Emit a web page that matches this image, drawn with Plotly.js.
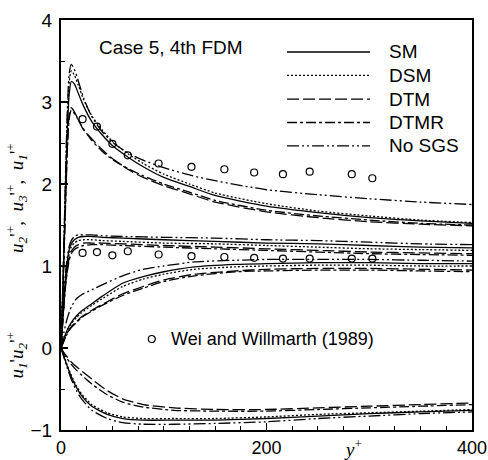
<!DOCTYPE html>
<html>
<head>
<meta charset="utf-8">
<script src="https://cdn.plot.ly/plotly-3.0.1.min.js"></script>
<style>html,body{margin:0;padding:0;background:#fff;}</style>
</head>
<body>
<div id="chart" style="width:488px;height:460px;"></div>
<script>
// ---------- DATA ----------
const models = ['SM', 'DSM', 'DTM', 'DTMR', 'No SGS'];

// u1'+ (upper peaked curves)
const xA = [0, 2, 4, 6, 8, 10, 13, 17, 22, 30, 40, 50, 65, 80, 100, 125, 150, 200, 250, 300, 350, 400];
const u1_SM    = [0, 0.80, 1.75, 2.60, 3.10, 3.25, 3.22, 3.10, 2.95, 2.76, 2.60, 2.47, 2.33, 2.21, 2.08, 1.97, 1.86, 1.73, 1.65, 1.59, 1.55, 1.52];
const u1_DSM   = [0, 0.85, 1.85, 2.75, 3.25, 3.38, 3.33, 3.20, 3.03, 2.83, 2.66, 2.52, 2.37, 2.25, 2.12, 2.00, 1.89, 1.76, 1.67, 1.61, 1.56, 1.53];
const u1_DTM   = [0, 0.75, 1.60, 2.40, 2.85, 2.93, 2.88, 2.78, 2.66, 2.55, 2.42, 2.31, 2.18, 2.08, 1.98, 1.88, 1.78, 1.66, 1.59, 1.54, 1.51, 1.49];
const u1_DTMR  = [0, 0.70, 1.55, 2.35, 2.80, 2.90, 2.86, 2.78, 2.67, 2.53, 2.40, 2.30, 2.19, 2.10, 2.00, 1.90, 1.80, 1.68, 1.61, 1.56, 1.52, 1.50];
const u1_NoSGS = [0, 0.85, 1.90, 2.85, 3.35, 3.46, 3.40, 3.25, 3.05, 2.82, 2.64, 2.51, 2.38, 2.29, 2.20, 2.11, 2.04, 1.93, 1.87, 1.82, 1.78, 1.75];

// u3'+ (plateau near 1.3)
const xB = [0, 2, 4, 6, 8, 10, 13, 17, 22, 30, 40, 60, 100, 150, 200, 250, 300, 350, 400];
const u3_SM    = [0, 0.42, 0.80, 1.05, 1.20, 1.27, 1.32, 1.35, 1.36, 1.36, 1.35, 1.34, 1.32, 1.30, 1.28, 1.27, 1.25, 1.23, 1.22];
const u3_DSM   = [0, 0.40, 0.76, 1.00, 1.15, 1.23, 1.28, 1.31, 1.32, 1.32, 1.31, 1.30, 1.28, 1.27, 1.25, 1.23, 1.21, 1.20, 1.19];
const u3_DTM   = [0, 0.38, 0.72, 0.95, 1.10, 1.18, 1.23, 1.26, 1.28, 1.28, 1.28, 1.27, 1.25, 1.23, 1.21, 1.19, 1.17, 1.16, 1.15];
const u3_DTMR  = [0, 0.36, 0.70, 0.92, 1.07, 1.15, 1.20, 1.23, 1.25, 1.26, 1.26, 1.25, 1.23, 1.21, 1.19, 1.17, 1.15, 1.14, 1.13];
const u3_NoSGS = [0, 0.45, 0.85, 1.10, 1.24, 1.31, 1.36, 1.38, 1.38, 1.38, 1.37, 1.36, 1.35, 1.34, 1.32, 1.31, 1.29, 1.27, 1.26];

// u2'+ (slow rise to ~1)
const xC = [0, 3, 6, 10, 15, 20, 30, 40, 60, 80, 100, 130, 170, 200, 250, 300, 350, 400];
const u2_SM    = [0, 0.12, 0.22, 0.31, 0.39, 0.45, 0.54, 0.63, 0.79, 0.87, 0.93, 0.99, 1.02, 1.03, 1.04, 1.04, 1.03, 1.03];
const u2_DSM   = [0, 0.11, 0.21, 0.30, 0.37, 0.43, 0.52, 0.60, 0.75, 0.84, 0.90, 0.96, 0.99, 1.00, 1.01, 1.01, 1.00, 1.00];
const u2_DTM   = [0, 0.09, 0.18, 0.26, 0.32, 0.38, 0.46, 0.53, 0.66, 0.75, 0.83, 0.90, 0.94, 0.96, 0.97, 0.97, 0.96, 0.95];
const u2_DTMR  = [0, 0.09, 0.17, 0.25, 0.31, 0.37, 0.45, 0.52, 0.64, 0.73, 0.81, 0.88, 0.93, 0.94, 0.95, 0.95, 0.94, 0.93];
const u2_NoSGS = [0, 0.20, 0.36, 0.50, 0.60, 0.65, 0.71, 0.77, 0.88, 0.96, 1.00, 1.05, 1.07, 1.08, 1.08, 1.08, 1.07, 1.06];

// u1'u2'+ (negative)
const xD = [0, 3, 6, 10, 15, 20, 30, 45, 60, 80, 110, 150, 200, 250, 300, 350, 400];
const uv_SM    = [0, -0.11, -0.22, -0.35, -0.48, -0.58, -0.71, -0.81, -0.86, -0.88, -0.88, -0.88, -0.86, -0.83, -0.80, -0.78, -0.76];
const uv_DSM   = [0, -0.10, -0.21, -0.33, -0.46, -0.56, -0.69, -0.79, -0.84, -0.86, -0.86, -0.86, -0.84, -0.81, -0.79, -0.77, -0.75];
const uv_DTM   = [0, -0.06, -0.11, -0.17, -0.23, -0.28, -0.38, -0.52, -0.62, -0.69, -0.73, -0.75, -0.75, -0.73, -0.71, -0.69, -0.67];
const uv_DTMR  = [0, -0.07, -0.13, -0.20, -0.27, -0.33, -0.44, -0.57, -0.66, -0.72, -0.76, -0.77, -0.77, -0.75, -0.73, -0.71, -0.69];
const uv_NoSGS = [0, -0.12, -0.24, -0.38, -0.52, -0.62, -0.76, -0.86, -0.91, -0.93, -0.93, -0.92, -0.90, -0.86, -0.83, -0.80, -0.78];

// Wei and Willmarth (1989) experimental data
const xExp = [21, 35, 50, 65, 95, 127, 159, 188, 216, 242, 283, 303];
const u1Exp = [2.79, 2.70, 2.49, 2.35, 2.25, 2.21, 2.18, 2.14, 2.12, 2.15, 2.12, 2.07];
const u2Exp = [1.16, 1.17, 1.13, 1.18, 1.14, 1.12, 1.11, 1.10, 1.09, 1.09, 1.09, 1.09];

const expLabel = 'Wei and Willmarth (1989)';
const panelLabel = 'Case 5, 4th FDM';

// ---------- STYLE ----------
const dashes = {
  'SM': 'solid',
  'DSM': '2px,2px',
  'DTM': '12px,4px',
  'DTMR': '10px,3px,3px,3px',
  'No SGS': '12px,3px,2px,3px,2px,3px'
};
const groups = [
  {x: xA, ys: {'SM': u1_SM, 'DSM': u1_DSM, 'DTM': u1_DTM, 'DTMR': u1_DTMR, 'No SGS': u1_NoSGS}},
  {x: xB, ys: {'SM': u3_SM, 'DSM': u3_DSM, 'DTM': u3_DTM, 'DTMR': u3_DTMR, 'No SGS': u3_NoSGS}},
  {x: xC, ys: {'SM': u2_SM, 'DSM': u2_DSM, 'DTM': u2_DTM, 'DTMR': u2_DTMR, 'No SGS': u2_NoSGS}},
  {x: xD, ys: {'SM': uv_SM, 'DSM': uv_DSM, 'DTM': uv_DTM, 'DTMR': uv_DTMR, 'No SGS': uv_NoSGS}}
];

const traces = [];
groups.forEach((g, gi) => {
  models.forEach(m => {
    traces.push({
      x: g.x, y: g.ys[m], type: 'scatter', mode: 'lines', name: m,
      legendgroup: m, showlegend: false,
      line: {color: '#000', width: 1.3, dash: dashes[m], shape: 'spline', smoothing: 0.6},
      hoverinfo: 'skip'
    });
  });
});
[u1Exp, u2Exp].forEach(ye => {
  traces.push({
    x: xExp, y: ye, type: 'scatter', mode: 'markers', name: expLabel, showlegend: false,
    marker: {symbol: 'circle-open', size: 7, color: '#000', line: {width: 1.2, color: '#000'}},
    hoverinfo: 'skip'
  });
});

const SANS = 'Liberation Sans, Arial, sans-serif';
const SERIF = 'Liberation Serif, Times New Roman, serif';

// legend drawn as samples + text
const shapes = [];
const annotations = [];
const legY = [0.922, 0.865, 0.807, 0.750, 0.693];
models.forEach((m, i) => {
  shapes.push({type: 'line', xref: 'paper', yref: 'paper', x0: 0.55, x1: 0.752, y0: legY[i], y1: legY[i],
    line: {color: '#000', width: 1.3, dash: dashes[m]}});
  annotations.push({xref: 'paper', yref: 'paper', x: 0.793, y: legY[i], xanchor: 'left', yanchor: 'middle',
    text: m, showarrow: false, font: {family: SANS, size: 19, color: '#000'}});
});
annotations.push({xref: 'paper', yref: 'paper', x: 0.088, y: 0.932, xanchor: 'left', yanchor: 'middle',
  text: panelLabel, showarrow: false, font: {family: SANS, size: 19, color: '#000'}});
// experimental legend
shapes.push({type: 'circle', xref: 'paper', yref: 'paper', xsizemode: 'pixel', ysizemode: 'pixel',
  xanchor: 0.221, yanchor: 0.222, x0: -3.5, x1: 3.5, y0: -3.5, y1: 3.5, line: {color: '#000', width: 1.2}});
annotations.push({xref: 'paper', yref: 'paper', x: 0.262, y: 0.222, xanchor: 'left', yanchor: 'middle',
  text: expLabel, showarrow: false, font: {family: SANS, size: 18, color: '#000'}});
// axis titles
annotations.push({xref: 'paper', yref: 'paper', x: -0.108, y: 0.565, xanchor: 'center', yanchor: 'middle', textangle: -90,
  text: '<i>u</i><sub><i>2</i></sub>\'<sup>+</sup>,  <i>u</i><sub><i>3</i></sub>\'<sup>+</sup>,  <i>u</i><sub><i>1</i></sub>\'<sup>+</sup>',
  showarrow: false, font: {family: SERIF, size: 19, color: '#000'}});
annotations.push({xref: 'paper', yref: 'paper', x: -0.108, y: 0.183, xanchor: 'center', yanchor: 'middle', textangle: -90,
  text: '<i>u</i><sub><i>1</i></sub>\'<i>u</i><sub><i>2</i></sub>\'<sup>+</sup>',
  showarrow: false, font: {family: SERIF, size: 19, color: '#000'}});
annotations.push({xref: 'paper', yref: 'paper', x: 0.71, y: -0.045, xanchor: 'center', yanchor: 'middle',
  text: '<i>y</i><sup>+</sup>', showarrow: false, font: {family: SERIF, size: 19, color: '#000'}});

const layout = {
  width: 488, height: 460,
  margin: {l: 61, r: 16, t: 20, b: 30},
  paper_bgcolor: '#fff', plot_bgcolor: '#fff',
  showlegend: false,
  font: {family: SANS, size: 19, color: '#000'},
  xaxis: {
    range: [0, 400], tickvals: [0, 200, 400], ticks: 'inside', ticklen: 7, tickwidth: 1.2, tickcolor: '#000',
    showline: true, linecolor: '#000', linewidth: 2, mirror: true, showgrid: false, zeroline: false,
    ticklabelstandoff: 0,
    minor: {dtick: 25, ticks: 'inside', ticklen: 4, tickwidth: 1, tickcolor: '#000', showgrid: false},
    tickfont: {family: SANS, size: 18, color: '#000'}
  },
  yaxis: {
    range: [-1, 4], tickvals: [-1, 0, 1, 2, 3, 4], ticks: 'inside', ticklen: 7, tickwidth: 1.2, tickcolor: '#000',
    showline: true, linecolor: '#000', linewidth: 2, mirror: true, showgrid: false, zeroline: false,
    ticklabelstandoff: 3,
    minor: {dtick: 0.5, ticks: 'inside', ticklen: 4, tickwidth: 1, tickcolor: '#000', showgrid: false},
    tickfont: {family: SANS, size: 19, color: '#000'}
  },
  shapes: shapes,
  annotations: annotations
};

Plotly.newPlot('chart', traces, layout, {staticPlot: true, displayModeBar: false});
</script>
</body>
</html>
